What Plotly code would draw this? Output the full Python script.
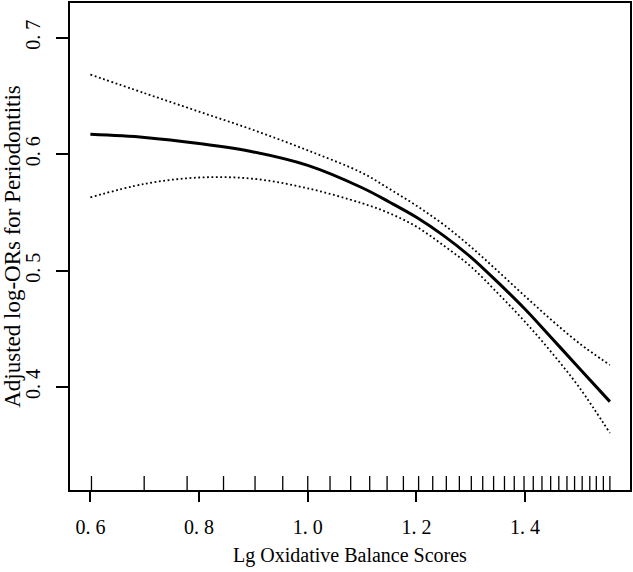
import plotly.graph_objects as go

# Lg OBS grid where the fitted curve and its CI were read
x_grid = [0.6, 0.7, 0.8, 0.9, 1.0, 1.1, 1.15, 1.2, 1.25, 1.3, 1.35, 1.4, 1.45, 1.5, 1.556]
fit = [0.6171, 0.6144, 0.6092, 0.6020, 0.5904, 0.5712, 0.5590, 0.5459, 0.5301, 0.5117,
       0.4899, 0.4668, 0.4415, 0.4160, 0.3875]
upper = [0.6684, 0.6524, 0.6366, 0.6208, 0.6033, 0.5840, 0.5703, 0.5558, 0.5396, 0.5205,
         0.4995, 0.4780, 0.4570, 0.4375, 0.4189]
lower = [0.5629, 0.5746, 0.5800, 0.5789, 0.5707, 0.5579, 0.5494, 0.5378, 0.5216, 0.5036,
         0.4805, 0.4560, 0.4290, 0.3995, 0.3605]

# rug of observed Lg OBS values
rug = [0.602, 0.699, 0.778, 0.845, 0.903, 0.954, 1.000, 1.041, 1.079, 1.114, 1.146,
       1.176, 1.204, 1.230, 1.255, 1.279, 1.301, 1.322, 1.342, 1.362, 1.380, 1.398,
       1.415, 1.431, 1.447, 1.462, 1.477, 1.491, 1.505, 1.519, 1.531, 1.544, 1.556]

x_ticks = [0.6, 0.8, 1.0, 1.2, 1.4]
x_ticktext = ["0. 6", "0. 8", "1. 0", "1. 2", "1. 4"]
y_ticks = [0.4, 0.5, 0.6, 0.7]
y_ticktext = ["0. 4", "0. 5", "0. 6", "0. 7"]

x_title = "Lg Oxidative Balance Scores"
y_title = "Adjusted log-ORs for Periodontitis"

FONT = "Liberation Serif"

fig = go.Figure()

for ci in (upper, lower):
    fig.add_trace(go.Scatter(x=x_grid, y=ci, mode="lines",
                             line=dict(color="black", width=1.8, dash="1.8px,2.6px", shape="spline"),
                             hoverinfo="skip", showlegend=False))

fig.add_trace(go.Scatter(x=x_grid, y=fit, mode="lines",
                         line=dict(color="black", width=3, shape="spline"),
                         showlegend=False))

rx, ry = [], []
for v in rug:
    rx += [v, v, None]
    ry += [0, 14 / 489, None]
fig.add_trace(go.Scatter(x=rx, y=ry, mode="lines", yaxis="y2",
                         line=dict(color="black", width=1.3),
                         hoverinfo="skip", showlegend=False))

fig.update_layout(
    width=633, height=572,
    margin=dict(l=70, r=2, t=1, b=82),
    paper_bgcolor="white", plot_bgcolor="white",
    font=dict(family=FONT, color="black"),
    xaxis=dict(range=[0.5625, 1.593], tickvals=x_ticks, ticktext=x_ticktext,
               ticks="outside", ticklen=10, tickwidth=1.5, tickcolor="black",
               showline=True, linecolor="black", linewidth=2, mirror=True,
               showgrid=False, zeroline=False,
               tickfont=dict(size=20, family=FONT), ticklabelstandoff=8,
               title=dict(text=x_title, font=dict(size=20, family=FONT), standoff=11)),
    yaxis=dict(range=[0.3116, 0.7299], tickvals=y_ticks, ticktext=y_ticktext,
               ticks="outside", ticklen=12, tickwidth=1.5, tickcolor="black",
               showline=True, linecolor="black", linewidth=2, mirror=True,
               showgrid=False, zeroline=False, tickangle=-90,
               tickfont=dict(size=20, family=FONT), ticklabelstandoff=8,
               title=dict(text=y_title, font=dict(size=23, family=FONT), standoff=3)),
    yaxis2=dict(range=[0, 1], overlaying="y", visible=False, fixedrange=True),
)

fig.write_html("out.html")
